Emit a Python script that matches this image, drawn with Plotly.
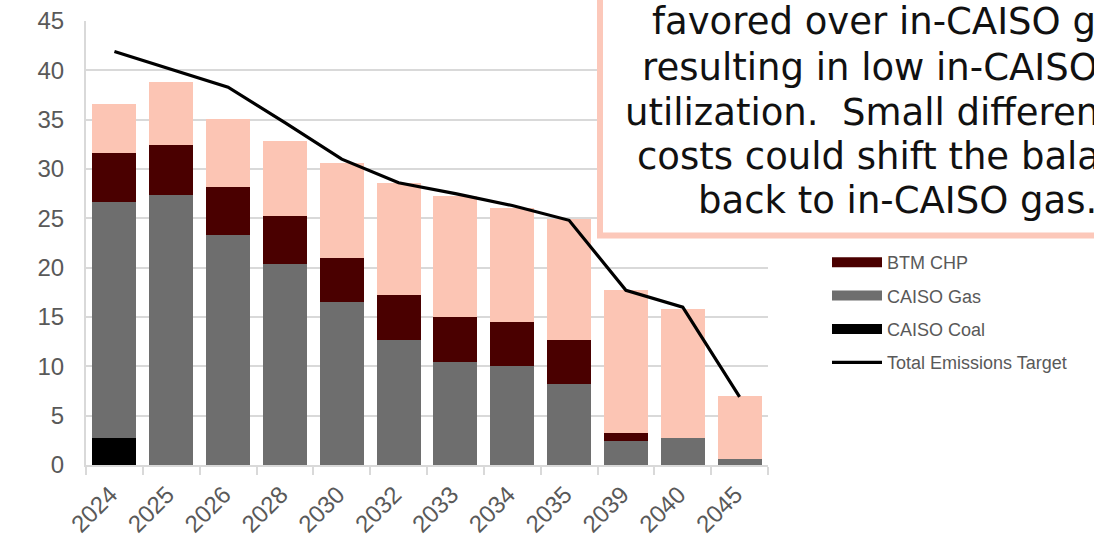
import plotly.graph_objects as go

# Emissions by source (MMT CO2e), stacked segments per study year
years = ["2024", "2025", "2026", "2028", "2030", "2032", "2033", "2034", "2035", "2039", "2040", "2045"]
caiso_coal = [2.7, 0, 0, 0, 0, 0, 0, 0, 0, 0, 0, 0]
caiso_gas = [24.0, 27.4, 23.3, 20.4, 16.5, 12.7, 10.4, 10.0, 8.2, 2.4, 2.7, 0.6]
btm_chp = [4.9, 5.0, 4.9, 4.8, 4.5, 4.5, 4.6, 4.5, 4.5, 0.8, 0, 0]
imports = [5.0, 6.4, 6.9, 7.6, 9.6, 11.4, 12.3, 11.5, 12.2, 14.5, 13.1, 6.4]
emissions_target = [41.9, 40.1, 38.3, 34.7, 31.0, 28.6, 27.5, 26.3, 24.8, 17.7, 16.0, 6.9]

note_lines = [
    "favored over in-CAISO gas,",
    "resulting in low in-CAISO gas",
    "utilization.  Small differences in",
    "costs could shift the balance",
    "back to in-CAISO gas.",
]

COAL = "#000000"
GAS = "#6e6e6e"
CHP = "#4a0000"
IMP = "#fcc5b4"
GRID = "#d9d9d9"
TXT = "#595959"
FONT = "Liberation Sans, Arial, sans-serif"

W, H = 1094, 539
ML, MR, MT, MB = 86, 326, 21, 74
PW, PH = W - ML - MR, H - MT - MB


def px(x):
    return (x - ML) / PW


def py(y):
    return (H - MB - y) / PH


fig = go.Figure()

for name, vals, col in [("CAISO Coal", caiso_coal, COAL), ("CAISO Gas", caiso_gas, GAS),
                        ("BTM CHP", btm_chp, CHP), ("Imports", imports, IMP)]:
    fig.add_trace(go.Bar(x=years, y=vals, name=name, marker=dict(color=col, line=dict(width=0)),
                         showlegend=False))

# wide legend swatches for the stacked series
for name, col in [("BTM CHP", CHP), ("CAISO Gas", GAS), ("CAISO Coal", COAL)]:
    fig.add_trace(go.Scatter(x=[None], y=[None], mode="lines", name=name, legendgroup=name,
                             line=dict(color=col, width=10)))

fig.add_trace(go.Scatter(x=years, y=emissions_target, mode="lines", name="Total Emissions Target",
                         legendgroup="target", line=dict(color="#000000", width=3.2)))

# callout box
fig.add_shape(type="rect", xref="paper", yref="paper",
              x0=px(600), x1=px(1200), y0=py(235.5), y1=py(-40),
              line=dict(color="#fcc8ba", width=6), fillcolor="white", layer="above")

# callout text, one annotation per wrapped line (line start x, baseline y)
line_starts = [652, 642, 625, 637, 698]
baselines = [35, 80, 125, 169.5, 214]
for txt, x0, b in zip(note_lines, line_starts, baselines):
    fig.add_annotation(text=txt, xref="paper", yref="paper", x=px(x0 - 2), y=py(b - 13),
                       xanchor="left", yanchor="middle", showarrow=False,
                       font=dict(family="DejaVu Sans, sans-serif", size=37, color="#111111"))

fig.update_layout(
    width=W, height=H,
    margin=dict(l=ML, r=MR, t=MT, b=MB, pad=0, autoexpand=False),
    paper_bgcolor="white", plot_bgcolor="white",
    barmode="stack", bargap=0.225,
    font=dict(family=FONT, color=TXT),
    legend=dict(x=px(827), y=py(244), xanchor="left", yanchor="top",
                traceorder="grouped", tracegroupgap=7, itemwidth=50,
                font=dict(size=18, color=TXT), bgcolor="rgba(0,0,0,0)"),
    xaxis=dict(type="category", tickangle=-45, tickfont=dict(size=24, color=TXT),
               showgrid=False, showline=True, linecolor=GRID, linewidth=2, automargin=False,
               ticks="outside", tickson="boundaries", ticklen=8, tickcolor=GRID, tickwidth=2,
               ticklabelstandoff=4, ticklabelshift=-4),
    yaxis=dict(range=[0, 45], dtick=5, tickfont=dict(size=24, color=TXT), automargin=False,
               showgrid=True, gridcolor=GRID, gridwidth=2,
               showline=True, linecolor=GRID, linewidth=2, zeroline=False,
               ticks="outside", ticklen=0, ticklabelstandoff=15),
)

fig.write_html("out.html")
